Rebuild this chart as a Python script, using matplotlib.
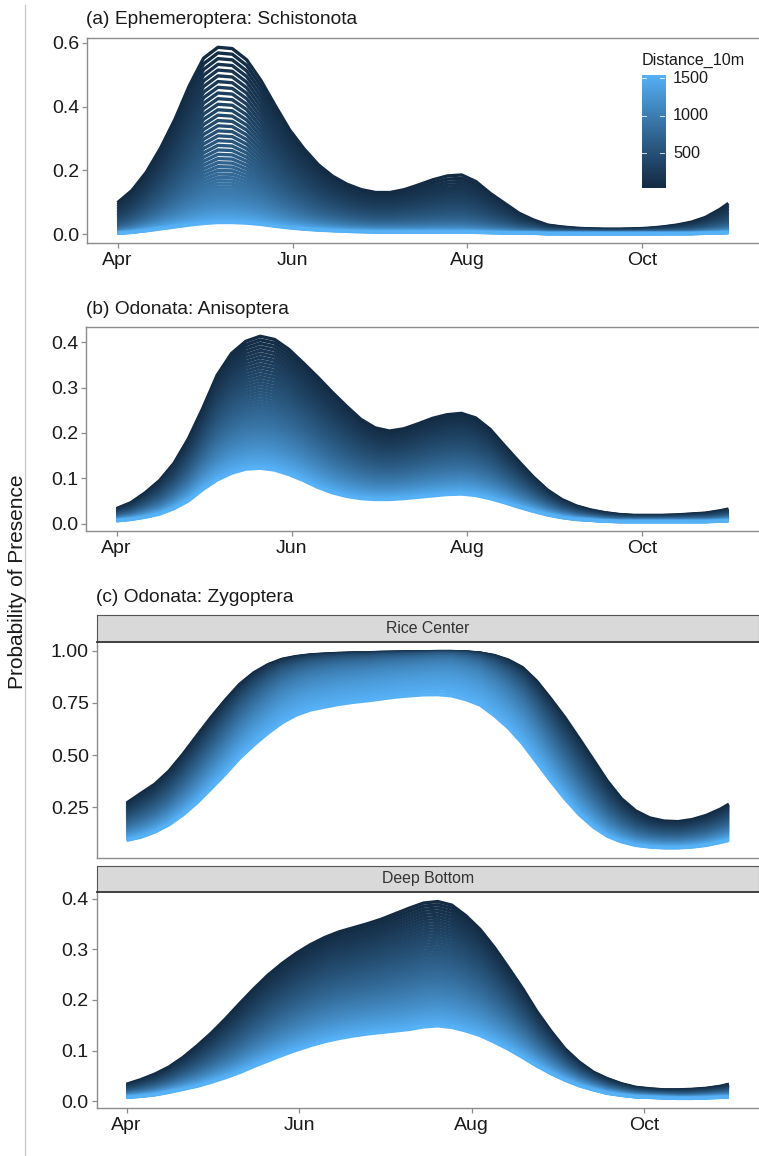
import numpy as np
import matplotlib
matplotlib.use("Agg")
import matplotlib.pyplot as plt

plt.rcParams['font.family'] = ['Liberation Sans', 'DejaVu Sans']

W, H = 759, 1156

# Sampling dates, in days after 1 April (last one is 31 October)
days = list(range(0, 211, 5)) + [213]
month_ticks = [0, 61, 122, 183]
month_labels = ['Apr', 'Jun', 'Aug', 'Oct']

# Distance classes (10 m units) for which predictions are drawn
distances = list(range(40, 1541, 30))

# Predicted probability of presence at the nearest and the farthest distance
schist_near = [0.099, 0.137, 0.194, 0.27, 0.36, 0.465, 0.552, 0.586, 0.582,
               0.547, 0.482, 0.403, 0.327, 0.268, 0.218, 0.182, 0.157, 0.14,
               0.131, 0.131, 0.14, 0.155, 0.171, 0.183, 0.186, 0.165, 0.128,
               0.097, 0.066, 0.045, 0.029, 0.023, 0.019, 0.017, 0.016, 0.016,
               0.017, 0.019, 0.023, 0.029, 0.038, 0.053, 0.078, 0.097]
schist_far = [0.003, 0.006, 0.011, 0.017, 0.023, 0.029, 0.034, 0.037, 0.037,
              0.035, 0.031, 0.025, 0.02, 0.016, 0.013, 0.011, 0.009, 0.008,
              0.007, 0.007, 0.007, 0.007, 0.007, 0.007, 0.007, 0.006, 0.005,
              0.004, 0.003, 0.003, 0.002, 0.002, 0.002, 0.002, 0.002, 0.002,
              0.002, 0.002, 0.002, 0.002, 0.002, 0.003, 0.004, 0.005]

aniso_near = [0.033, 0.046, 0.068, 0.095, 0.133, 0.187, 0.254, 0.327, 0.375,
              0.402, 0.413, 0.406, 0.384, 0.354, 0.323, 0.29, 0.259, 0.23,
              0.211, 0.204, 0.209, 0.22, 0.232, 0.24, 0.243, 0.233, 0.208,
              0.172, 0.137, 0.103, 0.074, 0.053, 0.039, 0.03, 0.024, 0.02,
              0.018, 0.018, 0.018, 0.019, 0.021, 0.023, 0.028, 0.032]
aniso_far = [0.006, 0.009, 0.014, 0.021, 0.033, 0.05, 0.075, 0.096, 0.111,
             0.12, 0.122, 0.118, 0.108, 0.095, 0.08, 0.068, 0.06, 0.055,
             0.053, 0.053, 0.055, 0.058, 0.061, 0.064, 0.065, 0.062, 0.055,
             0.046, 0.036, 0.027, 0.019, 0.013, 0.009, 0.007, 0.005, 0.004,
             0.004, 0.004, 0.004, 0.004, 0.004, 0.004, 0.005, 0.006]

zygo_rice_near = [0.269, 0.315, 0.36, 0.423, 0.505, 0.595, 0.683, 0.765,
                  0.84, 0.895, 0.934, 0.96, 0.973, 0.981, 0.985, 0.988, 0.99,
                  0.991, 0.993, 0.994, 0.995, 0.996, 0.997, 0.997, 0.995,
                  0.99, 0.978, 0.956, 0.92, 0.855, 0.77, 0.68, 0.58, 0.478,
                  0.375, 0.29, 0.232, 0.198, 0.183, 0.18, 0.19, 0.21, 0.24,
                  0.264]
zygo_rice_far = [0.09, 0.105, 0.13, 0.165, 0.213, 0.272, 0.34, 0.41, 0.485,
                 0.548, 0.605, 0.655, 0.692, 0.716, 0.73, 0.743, 0.753, 0.76,
                 0.769, 0.778, 0.784, 0.789, 0.79, 0.784, 0.766, 0.74, 0.69,
                 0.63, 0.555, 0.465, 0.375, 0.29, 0.215, 0.155, 0.11, 0.083,
                 0.066, 0.058, 0.054, 0.054, 0.058, 0.066, 0.08, 0.09]

zygo_deep_near = [0.034, 0.043, 0.054, 0.068, 0.087, 0.11, 0.135, 0.163,
                  0.193, 0.222, 0.249, 0.272, 0.292, 0.309, 0.323, 0.334,
                  0.342, 0.35, 0.359, 0.37, 0.381, 0.391, 0.394, 0.387, 0.366,
                  0.339, 0.304, 0.264, 0.223, 0.178, 0.139, 0.104, 0.078,
                  0.058, 0.045, 0.035, 0.028, 0.025, 0.023, 0.023, 0.024,
                  0.026, 0.03, 0.034]
zygo_deep_far = [0.008, 0.01, 0.013, 0.018, 0.024, 0.03, 0.038, 0.047, 0.057,
                 0.069, 0.08, 0.091, 0.101, 0.11, 0.118, 0.124, 0.129, 0.133,
                 0.136, 0.139, 0.142, 0.147, 0.149, 0.146, 0.139, 0.13, 0.117,
                 0.103, 0.087, 0.07, 0.055, 0.042, 0.031, 0.023, 0.016, 0.012,
                 0.009, 0.008, 0.007, 0.006, 0.006, 0.007, 0.008, 0.008]

LOW_COL, HIGH_COL = '#132B43', '#56B1F7'


# --- colour ramp interpolated in CIE Lab (as ggplot's continuous scale) ---
def _hex_rgb(h):
    return np.array([int(h[i:i + 2], 16) for i in (1, 3, 5)]) / 255.0


_M = np.array([[0.4124564, 0.3575761, 0.1804375],
               [0.2126729, 0.7151522, 0.0721750],
               [0.0193339, 0.1191920, 0.9503041]])
_WHITE = np.array([0.95047, 1.0, 1.08883])


def rgb_to_lab(rgb):
    lin = np.where(rgb <= 0.04045, rgb / 12.92, ((rgb + 0.055) / 1.055) ** 2.4)
    xyz = _M @ lin / _WHITE
    f = np.where(xyz > 0.008856, np.cbrt(xyz), 7.787 * xyz + 16 / 116)
    return np.array([116 * f[1] - 16, 500 * (f[0] - f[1]), 200 * (f[1] - f[2])])


def lab_to_rgb(lab):
    fy = (lab[0] + 16) / 116
    fx = fy + lab[1] / 500
    fz = fy - lab[2] / 200
    f = np.array([fx, fy, fz])
    xyz = np.where(f ** 3 > 0.008856, f ** 3, (f - 16 / 116) / 7.787) * _WHITE
    lin = np.clip(np.linalg.solve(_M, xyz), 0, 1)
    rgb = np.where(lin <= 0.0031308, 12.92 * lin, 1.055 * lin ** (1 / 2.4) - 0.055)
    return np.clip(rgb, 0, 1)


LAB_LO, LAB_HI = rgb_to_lab(_hex_rgb(LOW_COL)), rgb_to_lab(_hex_rgb(HIGH_COL))


def ramp(t):
    return lab_to_rgb(LAB_LO + (LAB_HI - LAB_LO) * t)


def logit(p):
    p = np.asarray(p, float)
    return np.log(p / (1 - p))


DMIN, DMAX = min(distances), max(distances)

fig = plt.figure(figsize=(W / 100, H / 100), dpi=100)


def px_axes(l, t, r, b, **kw):
    return fig.add_axes([l / W, 1 - b / H, (r - l) / W, (b - t) / H], **kw)


AX_COL = '#8C8C8C'
TXT = '#1A1A1A'
TICK_FS = 14
LINE_W = 2.4


def expand(lo, hi, f=0.05):
    s = hi - lo
    return lo - f * s, hi + f * s


def draw_panel(ax, near, far, yticks, yfmt, top_spine=True, show_x=True):
    x = np.array(days, float)
    ln, lf = logit(near), logit(far)
    # logistic prediction for each distance class
    for d in distances:
        t = (d - DMIN) / (DMAX - DMIN)
        p = 1 / (1 + np.exp(-(ln + (lf - ln) * t)))
        ax.plot(x, p, color=ramp(t), lw=LINE_W, solid_capstyle='butt',
                solid_joinstyle='round')
    allv = np.concatenate([near, far])
    ax.set_ylim(*expand(allv.min(), allv.max()))
    ax.set_xlim(*expand(min(days), max(days)))
    ax.set_yticks(yticks)
    ax.set_yticklabels([yfmt.format(v) for v in yticks])
    ax.set_xticks(month_ticks)
    ax.set_xticklabels(month_labels if show_x else [])
    for s in ('left', 'bottom', 'top'):
        ax.spines[s].set_color(AX_COL)
        ax.spines[s].set_linewidth(1.0)
    ax.spines['right'].set_visible(False)
    ax.spines['top'].set_visible(top_spine)
    ax.tick_params(axis='both', colors=AX_COL, labelcolor=TXT, length=3.5,
                   width=0.9, labelsize=TICK_FS, pad=2)
    ax.tick_params(axis='x', pad=3)


TITLE_FS = 13.8

# (a) Ephemeroptera
ax_a = px_axes(87, 38, 759, 243)
draw_panel(ax_a, schist_near, schist_far, [0.0, 0.2, 0.4, 0.6], '{:.1f}')
fig.text(86 / W, 1 - 20 / H, '(a) Ephemeroptera: Schistonota',
         fontsize=TITLE_FS, color=TXT, va='center', ha='left')

# (b) Anisoptera
ax_b = px_axes(86, 327, 759, 531)
draw_panel(ax_b, aniso_near, aniso_far, [0.0, 0.1, 0.2, 0.3, 0.4], '{:.1f}')
fig.text(86 / W, 1 - 310 / H, '(b) Odonata: Anisoptera', fontsize=TITLE_FS,
         color=TXT, va='center', ha='left')

# (c) Zygoptera, two habitats
fig.text(96.5 / W, 1 - 598 / H, '(c) Odonata: Zygoptera', fontsize=TITLE_FS,
         color=TXT, va='center', ha='left')

ax_c1 = px_axes(96.5, 641.7, 759, 857.7)
draw_panel(ax_c1, zygo_rice_near, zygo_rice_far, [0.25, 0.50, 0.75, 1.00],
           '{:.2f}', top_spine=False, show_x=False)
ax_c1.tick_params(axis='x', length=0)

ax_c2 = px_axes(96.5, 891.7, 759, 1108.3)
draw_panel(ax_c2, zygo_deep_near, zygo_deep_far, [0.0, 0.1, 0.2, 0.3, 0.4],
           '{:.1f}', top_spine=False)


def strip(t, b, label):
    sa = px_axes(96.5, t, 759, b)
    sa.set_facecolor('#D9D9D9')
    sa.set_xticks([])
    sa.set_yticks([])
    for s in ('left', 'top', 'right'):
        sa.spines[s].set_color('#555555')
        sa.spines[s].set_linewidth(0.8)
    sa.spines['bottom'].set_color('#333333')
    sa.spines['bottom'].set_linewidth(1.3)
    sa.text(0.5, 0.5, label, transform=sa.transAxes, ha='center',
            va='center', fontsize=11.4, color='#333333')


strip(615, 641.7, 'Rice Center')
strip(866, 891.7, 'Deep Bottom')

# shared y-axis title
fig.text(18 / W, 1 - 582 / H, 'Probability of Presence', rotation=90,
         fontsize=15, color=TXT, ha='center', va='center')

# thin vertical rule along the left margin
fig.add_artist(plt.Line2D([25 / W, 25 / W], [0, 1 - 5 / H],
                          transform=fig.transFigure, color='#C8C8C8', lw=0.9))

# colour bar legend
cb = px_axes(641.7, 75, 665, 188)
grad = np.array([ramp(t) for t in np.linspace(0, 1, 256)])[:, None, :]
cb.imshow(grad, aspect='auto', origin='lower',
          extent=[0, 1, DMIN, DMAX], interpolation='bilinear')
cb.set_xlim(0, 1)
cb.set_ylim(DMIN, DMAX)
cb.set_xticks([])
cb.set_yticks([])
for s in cb.spines.values():
    s.set_visible(False)
for v in (500, 1000, 1500):
    cb.plot([0, 0.2], [v, v], color='white', lw=0.7, alpha=0.8)
    cb.plot([0.8, 1], [v, v], color='white', lw=0.7, alpha=0.8)
    cb.text(1.35, v, str(v), fontsize=11.7, color=TXT, va='center', ha='left')
fig.text(641.7 / W, 1 - 60 / H, 'Distance_10m', fontsize=11.6, color=TXT,
         ha='left', va='center')

fig.savefig('out.png', dpi=100, facecolor='white')
